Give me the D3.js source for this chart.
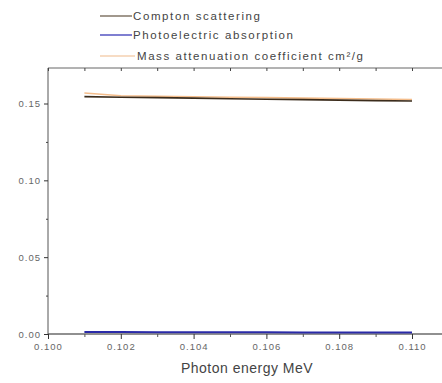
<!DOCTYPE html>
<html>
<head>
<meta charset="utf-8">
<script src="https://cdn.jsdelivr.net/npm/d3@7"></script>
<style>
  body { margin: 0; background: #fff; }
  text { font-family: "Liberation Sans", Arial, sans-serif; }
</style>
</head>
<body>
<div id="chart"></div>
<script>
// data
var energy = [0.101, 0.102, 0.103, 0.104, 0.105, 0.106, 0.107, 0.108, 0.109, 0.110];
var compton = [0.1545, 0.1541, 0.1538, 0.1535, 0.1531, 0.1528, 0.1525, 0.1522, 0.1519, 0.1516];
var photo = [0.0013, 0.0013, 0.0012, 0.0012, 0.0011, 0.0011, 0.0010, 0.0010, 0.0010, 0.0009];
var massAtt = [0.1568, 0.1550, 0.1547, 0.1544, 0.1541, 0.1538, 0.1535, 0.1532, 0.1529, 0.1526];
var seriesNames = ["Compton scattering", "Photoelectric absorption", "Mass attenuation coefficient cm\u00b2/g"];
var xTicks = [0.100, 0.102, 0.104, 0.106, 0.108, 0.110];
var yTicks = [0.00, 0.05, 0.10, 0.15];

var width = 442, height = 383;
var plotLeft = 48, plotBottom = 334, plotTop = 68;

var svg = d3.select("#chart").append("svg")
  .attr("width", width)
  .attr("height", height);

var x = d3.scaleLinear().domain([0.100, 0.110]).range([plotLeft, 412]);
var y = d3.scaleLinear().domain([0, 0.15]).range([plotBottom, 103.5]);

var colors = ["#3b2c1c", "#2a2aa8", "#f2b277"];
var legendColors = ["#6e6050", "#3a3ab8", "#f5d0b0"];

// frame lines
svg.append("line").attr("x1", plotLeft).attr("x2", width).attr("y1", plotBottom).attr("y2", plotBottom)
  .attr("stroke", "#222").attr("stroke-width", 1.2);
svg.append("line").attr("x1", plotLeft).attr("x2", width).attr("y1", plotTop).attr("y2", plotTop)
  .attr("stroke", "#666").attr("stroke-width", 1);
svg.append("line").attr("x1", plotLeft).attr("x2", plotLeft).attr("y1", plotTop).attr("y2", plotBottom)
  .attr("stroke", "#555").attr("stroke-width", 1);

// bottom axis
var xAxis = d3.axisBottom(x).tickValues(xTicks).tickFormat(d3.format(".3f"))
  .tickSize(5).tickPadding(4);
var gx = svg.append("g").attr("transform", "translate(0," + plotBottom + ")").call(xAxis);
gx.select(".domain").remove();
gx.selectAll("line").attr("stroke", "#333");
gx.selectAll("text").attr("fill", "#666").style("font-size", "9.5px").style("letter-spacing", "1px");

var xMinor = d3.axisBottom(x).tickValues([0.101, 0.103, 0.105, 0.107, 0.109]).tickSize(3).tickFormat("");
svg.append("g").attr("transform", "translate(0," + plotBottom + ")").call(xMinor)
  .call(function(g) { g.select(".domain").remove(); g.selectAll("line").attr("stroke", "#555"); });

// top mirror ticks
var xTop = d3.axisTop(x).tickValues(xTicks.concat([0.101, 0.103, 0.105, 0.107, 0.109])).tickSize(-3).tickFormat("");
svg.append("g").attr("transform", "translate(0," + plotTop + ")").call(xTop)
  .call(function(g) { g.select(".domain").remove(); g.selectAll("line").attr("stroke", "#444"); });

// left axis
var yAxis = d3.axisLeft(y).tickValues(yTicks).tickFormat(d3.format(".2f"))
  .tickSize(4).tickPadding(3);
var gy = svg.append("g").attr("transform", "translate(" + plotLeft + ",0)").call(yAxis);
gy.select(".domain").remove();
gy.selectAll("line").attr("stroke", "#333");
gy.selectAll("text").attr("fill", "#666").style("font-size", "9.5px").style("letter-spacing", "1px");

var yMinor = d3.axisLeft(y).tickValues([0.025, 0.075, 0.125]).tickSize(2).tickFormat("");
svg.append("g").attr("transform", "translate(" + plotLeft + ",0)").call(yMinor)
  .call(function(g) { g.select(".domain").remove(); g.selectAll("line").attr("stroke", "#444"); });

// axis title
svg.append("text").attr("x", 247).attr("y", 373).attr("text-anchor", "middle")
  .attr("fill", "#444").style("font-size", "14px").style("letter-spacing", "0.5px")
  .text("Photon energy MeV");

// series
var line = d3.line()
  .x(function(d, i) { return x(energy[i]); })
  .y(function(d) { return y(d); });

var allSeries = [compton, photo, massAtt];
[2, 0, 1].forEach(function(k) {
  svg.append("path").datum(allSeries[k])
    .attr("d", line)
    .attr("fill", "none")
    .attr("stroke", colors[k])
    .attr("stroke-width", k == 1 ? 2 : 1.6)
    .attr("opacity", k == 2 ? 0.85 : 1);
});

// legend
var legendY = [16, 35, 56];
var legendTextX = [133, 133, 137];
var legendTextLen = [127, 160, 226];
seriesNames.forEach(function(name, i) {
  svg.append("line")
    .attr("x1", 100).attr("x2", i == 2 ? 135 : 132)
    .attr("y1", legendY[i]).attr("y2", legendY[i])
    .attr("stroke", legendColors[i]).attr("stroke-width", 1.3);
  svg.append("text")
    .attr("x", legendTextX[i]).attr("y", legendY[i] + 4)
    .attr("fill", "#444").style("font-size", "11.5px")
    .attr("textLength", legendTextLen[i]).attr("lengthAdjust", "spacing")
    .text(name);
});
</script>
</body>
</html>
